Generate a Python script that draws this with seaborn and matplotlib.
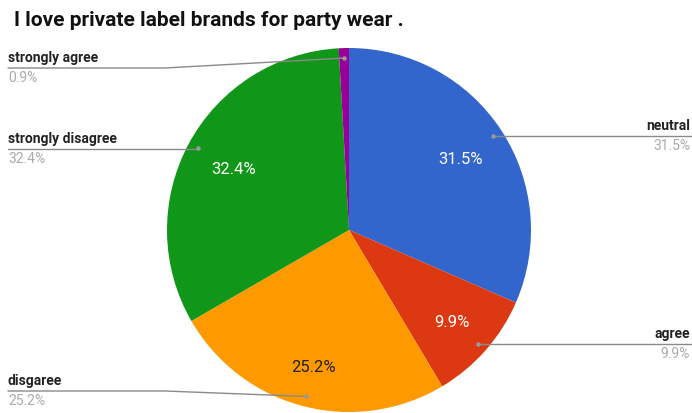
import numpy as np
import matplotlib
matplotlib.use("Agg")
import matplotlib.pyplot as plt
import seaborn as sns

# Survey answers, in drawing order (clockwise from 12 o'clock)
categories = ["neutral", "agree", "disgaree", "strongly disagree", "strongly agree"]
shares = [31.5, 9.9, 25.2, 32.4, 0.9]
colors = ["#3366CC", "#DC3912", "#FF9900", "#109618", "#990099"]
inner_text_colors = ["white", "white", "#222222", "white", None]
title = "I love private label brands for party wear ."

sns.set_theme(style="white")
plt.rcParams["font.family"] = ["Roboto", "DejaVu Sans"]

W, H = 692, 413
fig = plt.figure(figsize=(W / 100, H / 100), dpi=100)
ax = fig.add_axes([0, 0, 1, 1])


def py(y):
    """Convert a top-down pixel row into the upward axis coordinate."""
    return H - y


cx, cy, R = 349, py(230), 182
wedges, _ = ax.pie(shares, colors=colors, startangle=90, counterclock=False,
                   center=(cx, cy), radius=R, frame=True,
                   wedgeprops=dict(linewidth=0))
ax.set_xlim(0, W)
ax.set_ylim(0, H)
ax.set_axis_off()

# Percent labels inside the larger slices
pct_dist = [0.73, 0.75, 0.77, 0.72, None]
for w, val, tc, d in zip(wedges, shares, inner_text_colors, pct_dist):
    if d is None:
        continue
    a = np.deg2rad((w.theta1 + w.theta2) / 2)
    ax.text(cx + d * R * np.cos(a), cy + d * R * np.sin(a) - 2, f"{val}%",
            ha="center", va="center", fontsize=12, color=tc)

# Leader lines with outside labels: (side, label row, bend x)
layout = {
    "neutral": ("right", 136, None),
    "agree": ("right", 344, None),
    "disgaree": ("left", 391, 165),
    "strongly disagree": ("left", 149, None),
    "strongly agree": ("left", 68, 165),
}
line_col = "#8a8a8a"
for w, name, val in zip(wedges, categories, shares):
    a = np.deg2rad((w.theta1 + w.theta2) / 2)
    dx, dy = cx + 0.945 * R * np.cos(a), cy + 0.945 * R * np.sin(a)
    side, row, bend = layout[name]
    ly = py(row)
    if side == "right":
        ax.plot([dx, W], [ly, ly], color=line_col, lw=1, solid_capstyle="butt")
        tx, ha = W - 2, "right"
    else:
        if bend is not None:
            ax.plot([8, bend, dx], [ly, ly, dy], color=line_col, lw=1)
        else:
            ax.plot([8, dx], [ly, ly], color=line_col, lw=1)
        tx, ha = 8, "left"
    ax.plot([dx], [dy], "o", ms=3.2, color="#9a9a9a", mec="none")
    ax.text(tx, ly + 3, name, ha=ha, va="bottom", fontsize=10, fontweight="bold",
            color="#222222")
    ax.text(tx, ly - 3, f"{val}%", ha=ha, va="top", fontsize=10,
            color="#aaaaaa")

ax.text(14, py(21), title, ha="left", va="center", fontsize=15,
        fontweight="bold", color="#111111")

fig.savefig("out.png", dpi=100)
